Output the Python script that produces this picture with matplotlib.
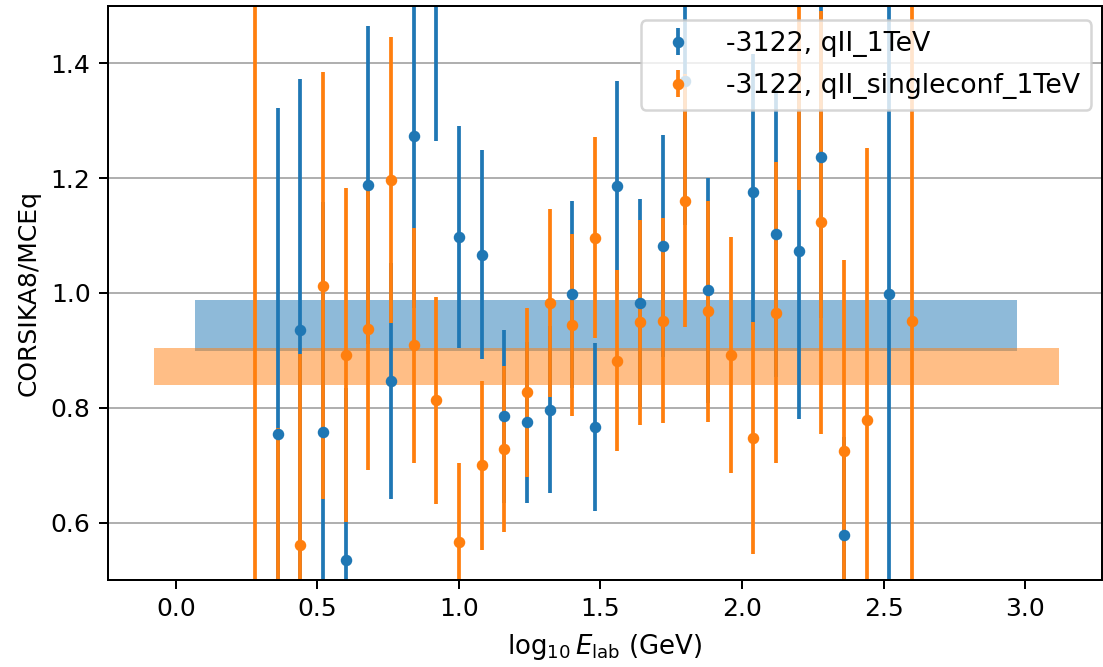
import numpy as np
import matplotlib
matplotlib.use("Agg")
import matplotlib.pyplot as plt

# bin centres in log10(E_lab / GeV)
log_e = [0.28, 0.36, 0.44, 0.52, 0.60, 0.68, 0.76, 0.84, 0.92, 1.00,
         1.08, 1.16, 1.24, 1.32, 1.40, 1.48, 1.56, 1.64, 1.72, 1.80,
         1.88, 1.96, 2.04, 2.12, 2.20, 2.28, 2.36, 2.44, 2.52, 2.60]

nan = np.nan
# -3122, qII_1TeV
ratio_qii = [nan, 0.755, 0.935, 0.758, 0.535, 1.188, 0.847, 1.274, 1.600, 1.098,
             1.067, 0.785, 0.775, 0.797, 0.998, 0.767, 1.187, 0.982, 1.082, 1.369,
             1.005, nan, 1.176, 1.103, 1.073, 1.237, 0.579, nan, 0.999, nan]
err_qii = [nan, 0.567, 0.437, 0.400, 0.300, 0.277, 0.206, 0.300, 0.335, 0.193,
           0.182, 0.151, 0.140, 0.146, 0.163, 0.146, 0.182, 0.181, 0.193, 0.250,
           0.196, nan, 0.240, 0.250, 0.293, 0.280, 0.170, nan, 0.600, nan]

# -3122, qII_singleconf_1TeV
ratio_single = [0.400, 0.320, 0.561, 1.013, 0.892, 0.937, 1.197, 0.909, 0.813, 0.567,
                0.700, 0.728, 0.827, 0.982, 0.944, 1.096, 0.882, 0.949, 0.952, 1.161,
                0.968, 0.892, 0.748, 0.966, 1.600, 1.123, 0.725, 0.778, nan, 0.952]
err_single = [1.200, 0.445, 0.332, 0.372, 0.291, 0.245, 0.249, 0.205, 0.180, 0.136,
              0.147, 0.144, 0.147, 0.164, 0.159, 0.175, 0.158, 0.179, 0.178, 0.220,
              0.192, 0.205, 0.202, 0.263, 0.421, 0.369, 0.333, 0.475, nan, 0.600]

# fitted constant bands (x range, lower, upper)
band_qii_x = [0.067, 2.973]
band_qii_y = (0.899, 0.988)
band_single_x = [-0.078, 3.119]
band_single_y = (0.840, 0.905)

labels = ["-3122, qII_1TeV", "-3122, qII_singleconf_1TeV"]

fig = plt.figure(figsize=(1103 / 180, 667 / 180), dpi=180)
ax = fig.add_axes([108 / 1103, 87 / 667, 994 / 1103, 574 / 667])

ax.fill_between(band_qii_x, band_qii_y[0], band_qii_y[1], color="C0", alpha=0.5, lw=0)
ax.fill_between(band_single_x, band_single_y[0], band_single_y[1], color="C1", alpha=0.5, lw=0)

ax.errorbar(log_e, ratio_qii, yerr=err_qii, fmt="o", ms=3.6, color="C0", label=labels[0])
ax.errorbar(log_e, ratio_single, yerr=err_single, fmt="o", ms=3.6, color="C1", label=labels[1])

ax.grid(axis="y")
ax.set_ylim(0.5, 1.5)
ax.set_xlim(-0.24, 3.272)
ax.set_xlabel(r"$\log_{10}E_{\rm lab}$ (GeV)", fontsize=10.4)
ax.set_ylabel("CORSIKA8/MCEq")
ax.legend(loc="upper right", fontsize=10.7, borderaxespad=0.45,
          labelspacing=0.6, bbox_to_anchor=(1.001, 0.996))

fig.savefig("out.png", dpi=180)
